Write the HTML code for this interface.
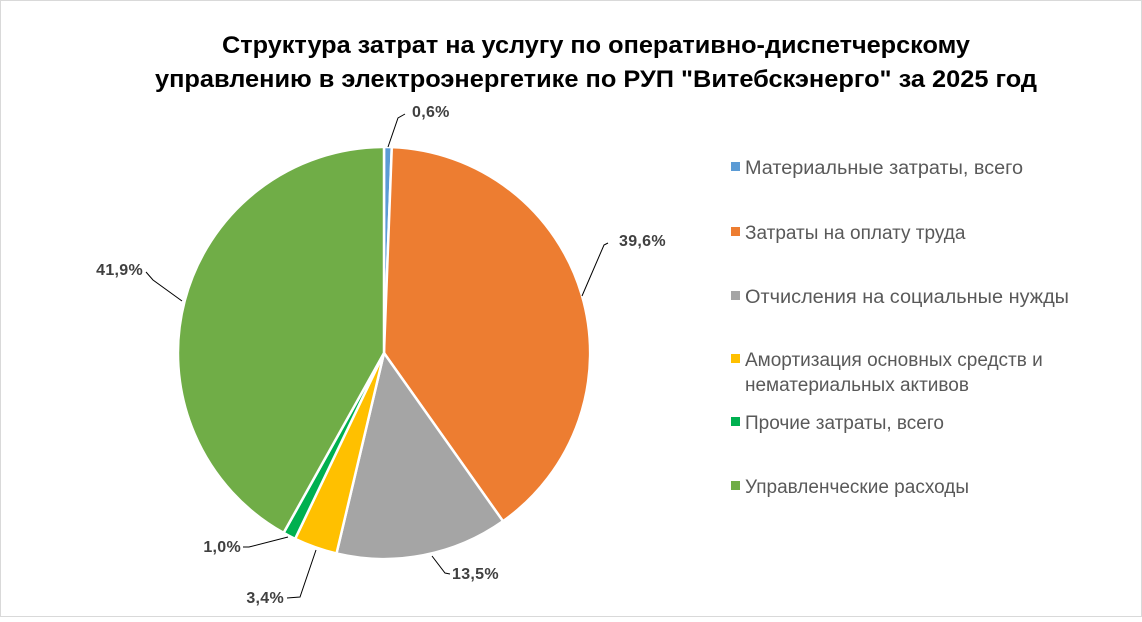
<!DOCTYPE html>
<html><head><meta charset="utf-8"><style>
body{margin:0;background:#fff}
svg text{font-family:"Liberation Sans",Arial,sans-serif}
</style></head><body>
<svg width="1142" height="617" viewBox="0 0 1142 617" xmlns="http://www.w3.org/2000/svg">
<rect x="0.5" y="0.5" width="1141" height="616" fill="#fff" stroke="#d9d9d9"/>
<g font-size="24" font-weight="bold" fill="#000" text-anchor="middle">
<text x="596" y="53" textLength="748" lengthAdjust="spacingAndGlyphs">Структура затрат на услугу по оперативно-диспетчерскому</text>
<text x="596" y="87" textLength="882" lengthAdjust="spacingAndGlyphs">управлению в электроэнергетике по РУП "Витебскэнерго" за 2025 год</text>
</g>
<g stroke="#fff" stroke-width="2.5" stroke-linejoin="round">
<path d="M384,353 L384,147 A206,206 0 0 1 391.8,147.1 Z" fill="#5B9BD5"/>
<path d="M384,353 L391.8,147.1 A206,206 0 0 1 503,521.2 Z" fill="#ED7D31"/>
<path d="M384,353 L503,521.2 A206,206 0 0 1 336.5,553.5 Z" fill="#A5A5A5"/>
<path d="M384,353 L336.5,553.5 A206,206 0 0 1 295.1,538.9 Z" fill="#FFC000"/>
<path d="M384,353 L295.1,538.9 A206,206 0 0 1 283.6,532.9 Z" fill="#00B050"/>
<path d="M384,353 L283.6,532.9 A206,206 0 0 1 384,147 Z" fill="#70AD47"/>
</g>
<g stroke="#000" stroke-width="1" fill="none">
<polyline points="388,147 398,118 405,114"/>
<polyline points="582,296 604,245 608,243"/>
<polyline points="432,556 445,573 450,574"/>
<polyline points="316,550 300,597 287,598"/>
<polyline points="288,537 249,547 243,547"/>
<polyline points="182,301 153,280 146,272"/>
</g>
<g font-size="16" font-weight="bold" fill="#404040" letter-spacing="0.3">
<text x="412" y="117">0,6%</text>
<text x="619" y="246">39,6%</text>
<text x="452" y="579">13,5%</text>
<text x="284" y="603" text-anchor="end">3,4%</text>
<text x="241" y="552" text-anchor="end">1,0%</text>
<text x="143" y="275" text-anchor="end">41,9%</text>
</g>
<g font-size="19" fill="#595959">
<rect x="731" y="162" width="9" height="9" fill="#5B9BD5"/><text x="745" y="174" textLength="278" lengthAdjust="spacingAndGlyphs">Материальные затраты, всего</text>
<rect x="731" y="227" width="9" height="9" fill="#ED7D31"/><text x="745" y="239">Затраты на оплату труда</text>
<rect x="731" y="291" width="9" height="9" fill="#A5A5A5"/><text x="745" y="303" textLength="324" lengthAdjust="spacingAndGlyphs">Отчисления на социальные нужды</text>
<rect x="731" y="354" width="9" height="9" fill="#FFC000"/><text x="745" y="366">Амортизация основных средств и</text><text x="745" y="391">нематериальных активов</text>
<rect x="731" y="417" width="9" height="9" fill="#00B050"/><text x="745" y="429">Прочие затраты, всего</text>
<rect x="731" y="481" width="9" height="9" fill="#70AD47"/><text x="745" y="493">Управленческие расходы</text>
</g>
</svg>
</body></html>
